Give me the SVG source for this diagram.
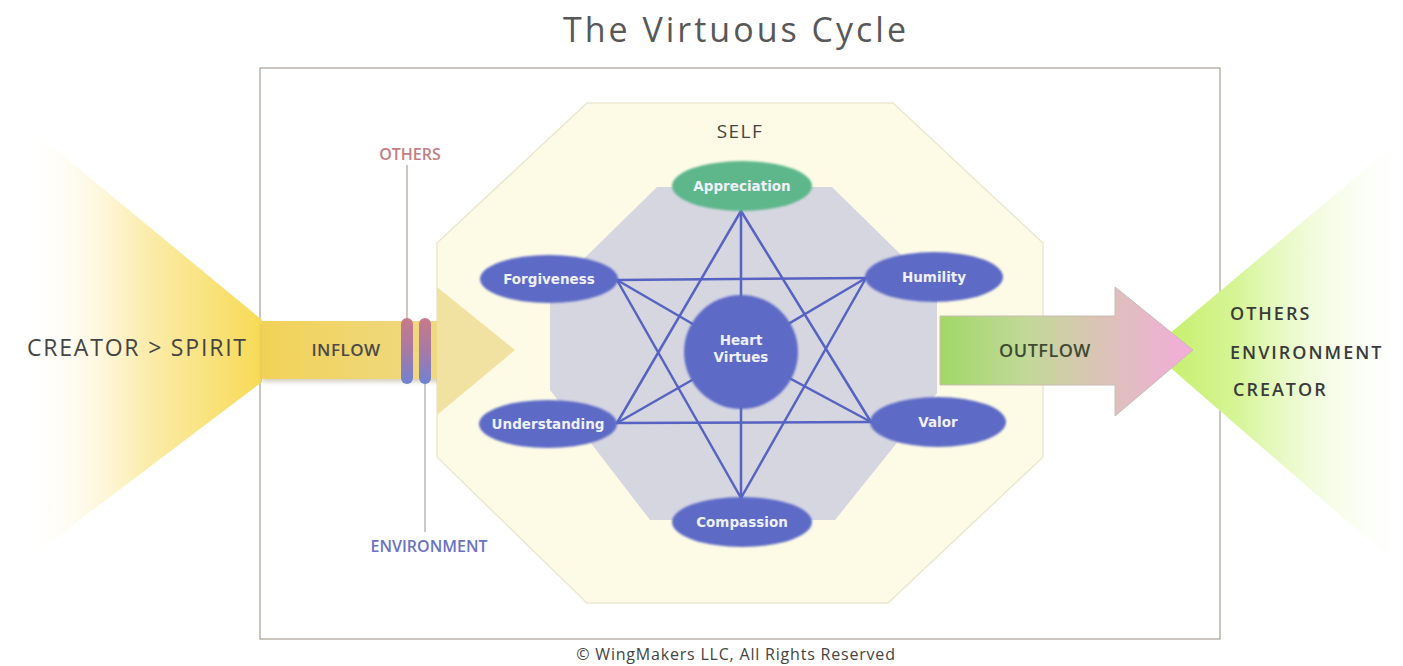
<svg xmlns="http://www.w3.org/2000/svg" width="1403" height="666" viewBox="0 0 1403 666">
<defs>
<linearGradient id="gLeftCone" x1="20" y1="0" x2="262" y2="0" gradientUnits="userSpaceOnUse">
<stop offset="0" stop-color="#ffffff" stop-opacity="0"/>
<stop offset="0.5" stop-color="#fcedb0"/>
<stop offset="1" stop-color="#f7da55"/>
</linearGradient>
<linearGradient id="gRightCone" x1="1150" y1="0" x2="1400" y2="0" gradientUnits="userSpaceOnUse">
<stop offset="0" stop-color="#c4ee62"/>
<stop offset="0.35" stop-color="#d6f597"/>
<stop offset="1" stop-color="#ffffff" stop-opacity="0.2"/>
</linearGradient>
<linearGradient id="gInflow" x1="262" y1="0" x2="440" y2="0" gradientUnits="userSpaceOnUse">
<stop offset="0" stop-color="#f1d258"/>
<stop offset="1" stop-color="#efd984"/>
</linearGradient>
<linearGradient id="gOutflow" x1="940" y1="0" x2="1193" y2="0" gradientUnits="userSpaceOnUse">
<stop offset="0" stop-color="#a2d867"/>
<stop offset="0.35" stop-color="#c3d89a"/>
<stop offset="0.65" stop-color="#dcc2b8"/>
<stop offset="1" stop-color="#f4acdc"/>
</linearGradient>
<linearGradient id="gTube" x1="0" y1="0" x2="0" y2="1">
<stop offset="0" stop-color="#c87a88"/>
<stop offset="0.5" stop-color="#a77aa6"/>
<stop offset="1" stop-color="#6f82d2"/>
</linearGradient>
<filter id="soft" x="-20%" y="-20%" width="140%" height="140%">
<feGaussianBlur stdDeviation="1.2"/>
</filter>
<filter id="shadow" x="-20%" y="-20%" width="140%" height="160%">
<feDropShadow dx="0" dy="3" stdDeviation="2" flood-color="#8a7a50" flood-opacity="0.35"/>
</filter>
</defs>
<style>
.lbl{font-family:"Open Sans","Liberation Sans",sans-serif;}
.node{fill:#5d6ac6;filter:url(#soft);}
.ntxt{font-family:"DejaVu Sans","Liberation Sans",sans-serif;font-weight:bold;font-size:13.5px;fill:#eef0fb;text-anchor:middle;}
.conn line{stroke:#5663c2;stroke-width:2.5;stroke-linecap:round;}
.side{font-family:"Open Sans","Liberation Sans",sans-serif;font-size:18px;fill:#3a3a3a;letter-spacing:2px;font-weight:600;}
</style>
<rect width="1403" height="666" fill="#ffffff"/>

<text class="lbl" x="736" y="42" font-size="34" fill="#585858" text-anchor="middle" letter-spacing="3">The Virtuous Cycle</text>

<rect id="frame" x="260" y="68" width="960" height="571" fill="#ffffff" stroke="#b0a79e" stroke-width="1.3"/>

<g id="left-cone">
<polygon points="20,120 262,320 262,382 20,565" fill="url(#gLeftCone)"/>
<text class="lbl" x="27" y="356" font-size="23" fill="#444444" letter-spacing="1.8">CREATOR &gt; SPIRIT</text>
</g>

<g id="right-cone">
<polygon points="1150,350 1400,140 1400,567" fill="url(#gRightCone)"/>
</g>

<g id="self">
<polygon points="587,103 893,103 1043,243 1043,457 888,603 587,603 437,457 437,243" fill="#fdfbe6" stroke="#ece8cf" stroke-width="1.5"/>
<text class="lbl" x="740" y="138" font-size="19" fill="#444444" text-anchor="middle" letter-spacing="1.5">SELF</text>
<polygon points="657,187 832,187 937,290 937,393 835,520 650,520 550,390 550,292" fill="#d6d6e1"/>
</g>

<g id="inflow">
<rect x="262" y="321" width="178" height="58" fill="url(#gInflow)" filter="url(#shadow)"/>
<polygon points="437,287 515,350 437,415" fill="#f2e2a2"/>
<text class="lbl" x="346" y="356" font-size="17" fill="#4a4a4a" font-weight="600" text-anchor="middle" letter-spacing="0.5">INFLOW</text>
</g>

<g id="others-in">
<line x1="407" y1="165" x2="407" y2="320" stroke="#b89a9c" stroke-width="1.2"/>
<text class="lbl" x="410" y="160" font-size="16" font-weight="600" fill="#c27e84" text-anchor="middle">OTHERS</text>
</g>
<g id="environment-in">
<line x1="425" y1="380" x2="425" y2="532" stroke="#a9a3ae" stroke-width="1.2"/>
<text class="lbl" x="429" y="552" font-size="16" font-weight="600" fill="#6a73bf" text-anchor="middle">ENVIRONMENT</text>
</g>
<g id="tubes">
<rect x="401" y="318" width="12" height="66" rx="6" fill="url(#gTube)"/>
<rect x="419" y="318" width="12" height="66" rx="6" fill="url(#gTube)"/>
</g>

<g id="outflow">
<polygon points="940,316 1115,316 1115,287 1193,350 1115,416 1115,385 940,385" fill="url(#gOutflow)" stroke="#c9bcb4" stroke-width="1"/>
<text class="lbl" x="1045" y="357" font-size="18" fill="#3f4a33" font-weight="600" text-anchor="middle" letter-spacing="0.5">OUTFLOW</text>
</g>

<g id="targets">
<text class="side" x="1230" y="320">OTHERS</text>
<text class="side" x="1230" y="359">ENVIRONMENT</text>
<text class="side" x="1233" y="396">CREATOR</text>
</g>

<g id="connectors" class="conn">
<line x1="741" y1="211" x2="617" y2="423"/>
<line x1="741" y1="211" x2="871" y2="422"/>
<line x1="617" y1="423" x2="871" y2="422"/>
<line x1="741" y1="498" x2="617" y2="280"/>
<line x1="741" y1="498" x2="866" y2="278"/>
<line x1="617" y1="280" x2="866" y2="278"/>
<line x1="741" y1="211" x2="741" y2="498"/>
<line x1="617" y1="280" x2="741" y2="352"/>
<line x1="866" y1="278" x2="741" y2="352"/>
<line x1="617" y1="423" x2="741" y2="352"/>
<line x1="871" y1="422" x2="741" y2="352"/>
</g>

<g id="appreciation">
<ellipse cx="742" cy="186" rx="70" ry="25" fill="#5db78b" filter="url(#soft)"/>
<text class="ntxt" x="742" y="191">Appreciation</text>
</g>
<g id="forgiveness">
<ellipse class="node" cx="549" cy="279" rx="69" ry="24"/>
<text class="ntxt" x="549" y="284">Forgiveness</text>
</g>
<g id="humility">
<ellipse class="node" cx="934" cy="277" rx="69" ry="25"/>
<text class="ntxt" x="934" y="282">Humility</text>
</g>
<g id="understanding">
<ellipse class="node" cx="548" cy="424" rx="69" ry="24"/>
<text class="ntxt" x="548" y="429">Understanding</text>
</g>
<g id="valor">
<ellipse class="node" cx="938" cy="422" rx="68" ry="25"/>
<text class="ntxt" x="938" y="427">Valor</text>
</g>
<g id="compassion">
<ellipse class="node" cx="742" cy="522" rx="70" ry="25"/>
<text class="ntxt" x="742" y="527">Compassion</text>
</g>
<g id="heart-virtues">
<circle class="node" cx="741" cy="352" r="57"/>
<text class="ntxt" x="741" y="345" font-size="15px">Heart</text>
<text class="ntxt" x="741" y="362" font-size="15px">Virtues</text>
</g>

<text class="lbl" x="736" y="660" font-size="16" fill="#444444" text-anchor="middle" letter-spacing="0.8">© WingMakers LLC, All Rights Reserved</text>
</svg>
